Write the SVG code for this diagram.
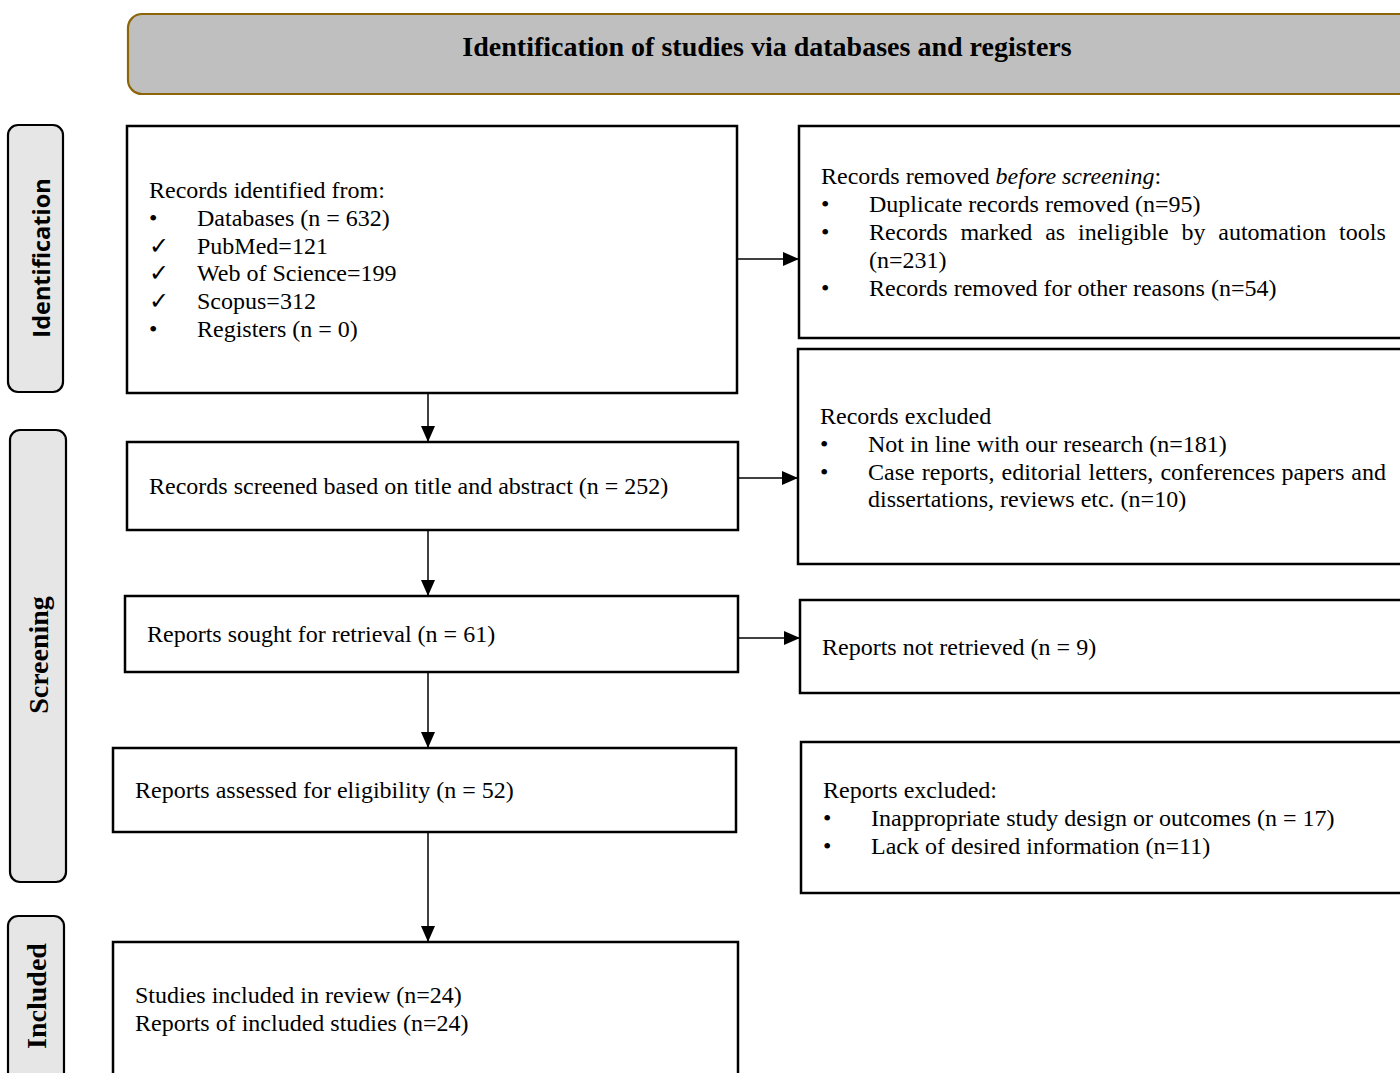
<svg xmlns="http://www.w3.org/2000/svg" width="1400" height="1073" viewBox="0 0 1400 1073">
<style>
.box{fill:#fff;stroke:#000;stroke-width:2.5}
.side{fill:#e6e6e6;stroke:#000;stroke-width:2.2}
.t{font-family:"Liberation Serif","Times New Roman",serif;font-size:24px;fill:#000}
.h{font-family:"Liberation Serif","Times New Roman",serif;font-size:28px;font-weight:bold;fill:#000}
.conn{stroke:#000;stroke-width:1.5;fill:none}
</style>
<defs>
<marker id="ah" markerWidth="16" markerHeight="14" refX="16" refY="7" orient="auto" markerUnits="userSpaceOnUse" viewBox="0 0 16 14">
<path d="M0,0 L16,7 L0,14 z" fill="#000"/>
</marker>
</defs>
<rect width="1400" height="1073" fill="#fff"/>
<g id="header">
<rect x="128" y="14" width="1290" height="80" rx="14" fill="#bfbfbf" stroke="#8b6508" stroke-width="2.2"/>
<text class="h" x="767" y="56" text-anchor="middle">Identification of studies via databases and registers</text>
</g>
<g id="stage-identification">
<rect class="side" x="8" y="125" width="55" height="267" rx="10"/>
<text transform="translate(50,258) rotate(-90)" text-anchor="middle" style="font-family:'Open Sans','Noto Sans',sans-serif;font-weight:bold;font-size:23.5px">Identification</text>
</g>
<g id="stage-screening">
<rect class="side" x="10" y="430" width="56" height="452" rx="10"/>
<text class="h" transform="translate(48,655) rotate(-90)" text-anchor="middle">Screening</text>
</g>
<g id="stage-included">
<rect class="side" x="8" y="916" width="56" height="170" rx="10"/>
<text class="h" transform="translate(46,996) rotate(-90)" text-anchor="middle">Included</text>
</g>
<g id="n1">
<rect class="box" x="127" y="126" width="610" height="267"/>
<text class="t" x="149" y="198">Records identified from:</text>
<text class="t" x="149" y="226">•</text><text class="t" x="197" y="226">Databases (n = 632)</text>
<text class="t" x="149" y="254">✓</text><text class="t" x="197" y="254">PubMed=121</text>
<text class="t" x="149" y="281">✓</text><text class="t" x="197" y="281">Web of Science=199</text>
<text class="t" x="149" y="309">✓</text><text class="t" x="197" y="309">Scopus=312</text>
<text class="t" x="149" y="337">•</text><text class="t" x="197" y="337">Registers (n = 0)</text>
</g>
<g id="n2">
<rect class="box" x="799" y="126" width="620" height="212"/>
<text class="t" x="821" y="184">Records removed <tspan font-style="italic">before screening</tspan>:</text>
<text class="t" x="821" y="212">•</text><text class="t" x="869" y="212">Duplicate records removed (n=95)</text>
<text class="t" x="821" y="240">•</text><text class="t" y="240"><tspan x="869">Records</tspan><tspan x="960.4">marked</tspan><tspan x="1045.2">as</tspan><tspan x="1078">ineligible</tspan><tspan x="1181.5">by</tspan><tspan x="1218.3">automation</tspan><tspan x="1339.1">tools</tspan></text>
<text class="t" x="869" y="268">(n=231)</text>
<text class="t" x="821" y="296">•</text><text class="t" x="869" y="296">Records removed for other reasons (n=54)</text>
</g>
<g id="n3">
<rect class="box" x="127" y="442" width="611" height="88"/>
<text class="t" x="149" y="494">Records screened based on title and abstract (n = 252)</text>
</g>
<g id="n4">
<rect class="box" x="798" y="349" width="621" height="215"/>
<text class="t" x="820" y="424">Records excluded</text>
<text class="t" x="820" y="452">•</text><text class="t" x="868" y="452">Not in line with our research (n=181)</text>
<text class="t" x="820" y="480">•</text><text class="t" y="480"><tspan x="868">Case</tspan><tspan x="921.8">reports,</tspan><tspan x="1001.5">editorial</tspan><tspan x="1088.6">letters,</tspan><tspan x="1160.4">conferences</tspan><tspan x="1281.6">papers</tspan><tspan x="1351.3">and</tspan></text>
<text class="t" x="868" y="507">dissertations, reviews etc. (n=10)</text>
</g>
<g id="n5">
<rect class="box" x="125" y="596" width="613" height="76"/>
<text class="t" x="147" y="642">Reports sought for retrieval (n = 61)</text>
</g>
<g id="n6">
<rect class="box" x="800" y="600" width="619" height="93"/>
<text class="t" x="822" y="655">Reports not retrieved (n = 9)</text>
</g>
<g id="n7">
<rect class="box" x="113" y="748" width="623" height="84"/>
<text class="t" x="135" y="798">Reports assessed for eligibility (n = 52)</text>
</g>
<g id="n8">
<rect class="box" x="801" y="742" width="618" height="151"/>
<text class="t" x="823" y="798">Reports excluded:</text>
<text class="t" x="823" y="826">•</text><text class="t" x="871" y="826">Inappropriate study design or outcomes (n = 17)</text>
<text class="t" x="823" y="854">•</text><text class="t" x="871" y="854">Lack of desired information (n=11)</text>
</g>
<g id="n9">
<rect class="box" x="113" y="942" width="625" height="150"/>
<text class="t" x="135" y="1003">Studies included in review (n=24)</text>
<text class="t" x="135" y="1031">Reports of included studies (n=24)</text>
</g>
<g id="connectors">
<line class="conn" x1="428" y1="393" x2="428" y2="442" marker-end="url(#ah)"/>
<line class="conn" x1="428" y1="530" x2="428" y2="596" marker-end="url(#ah)"/>
<line class="conn" x1="428" y1="672" x2="428" y2="748" marker-end="url(#ah)"/>
<line class="conn" x1="428" y1="832" x2="428" y2="942" marker-end="url(#ah)"/>
<line class="conn" x1="737" y1="259" x2="799" y2="259" marker-end="url(#ah)"/>
<line class="conn" x1="738" y1="478" x2="798" y2="478" marker-end="url(#ah)"/>
<line class="conn" x1="738" y1="638" x2="800" y2="638" marker-end="url(#ah)"/>
</g>
</svg>
